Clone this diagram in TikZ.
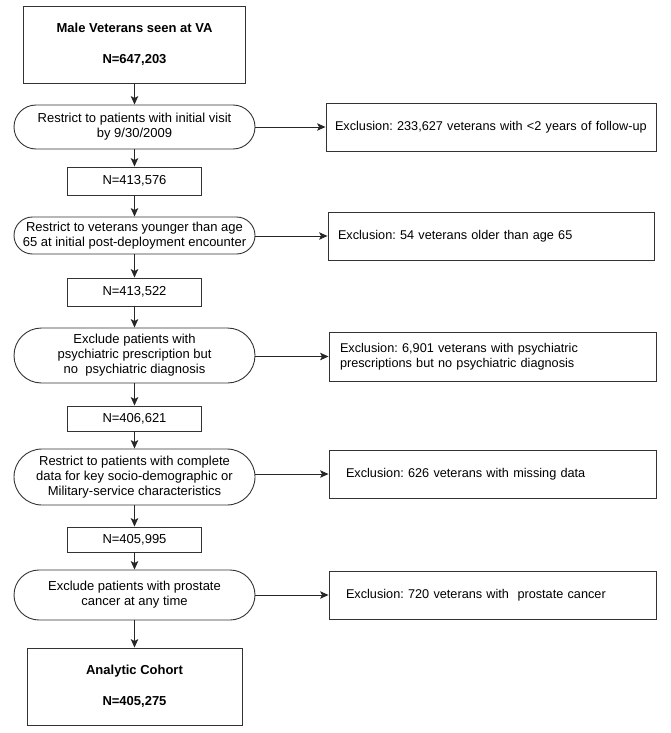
\documentclass[tikz,border=0pt]{standalone}
\usepackage{fontspec}
\setmainfont{Liberation Sans}
\usetikzlibrary{arrows.meta,shapes.misc}
\frenchspacing

\begin{document}
\begin{tikzpicture}[x=1pt,y=-1pt,
	every node/.style={font=\fontsize{13}{15}\selectfont, draw=black!80, line width=0.9pt, inner sep=0pt, align=center},
	box/.style={rectangle},
	pill/.style={rounded rectangle, minimum width=241pt},
	count/.style={rectangle, minimum width=134pt},
	excl/.style={rectangle, align=left, minimum height=48pt, font=\fontsize{12.7}{15}\selectfont},
	arr/.style={-{Stealth[length=8.5pt,width=7.5pt,inset=2pt]}, line width=0.9pt, draw=black!85}]
	\useasboundingbox (0,0) rectangle (671,733);

	\node[box, minimum width=222pt, minimum height=77pt] (male) at (134.5,44.5) {\textbf{Male Veterans seen at VA}\\[16pt]\textbf{N=647,203}};
	\node[pill, minimum height=44pt] (r1) at (134.5,127) {Restrict to patients with initial visit\\by 9/30/2009};
	\node[count, minimum height=28pt] (n1) at (134.5,181) {N=413,576};
	\node[pill, minimum height=37pt] (r2) at (134.5,235.5) {Restrict to veterans younger than age\\65 at initial post-deployment encounter};
	\node[count, minimum height=28pt] (n2) at (134.5,292) {N=413,522};
	\node[pill, minimum height=55pt] (r3) at (134.5,355.5) {Exclude patients with\\psychiatric prescription but\\no\ \ psychiatric diagnosis};
	\node[count, minimum height=25pt] (n3) at (134.5,418.5) {N=406,621};
	\node[pill, minimum height=56pt] (r4) at (134.5,477) {Restrict to patients with complete\\data for key socio-demographic or\\Military-service characteristics};
	\node[count, minimum height=25pt] (n4) at (134.5,539.5) {N=405,995};
	\node[pill, minimum height=50pt] (r5) at (134.5,595) {Exclude patients with prostate\\cancer at any time};
	\node[box, minimum width=215pt, minimum height=77pt] (cohort) at (134.5,686.5) {\textbf{Analytic Cohort}\\[16pt]\textbf{N=405,275}};

	\node[excl, inner xsep=9pt, text width=312pt] (e1) at (491,127) {\mbox{Exclusion: 233,627 veterans with <2 years of follow-up}};
	\node[excl, inner xsep=10pt, text width=306pt] (e2) at (491,236) {Exclusion: 54 veterans older than age 65};
	\node[excl, inner xsep=11pt, text width=305pt, minimum height=49pt] (e3) at (492.5,356.5) {Exclusion: 6,901 veterans with psychiatric\\prescriptions but no psychiatric diagnosis};
	\node[excl, inner xsep=17pt, text width=293pt] (e4) at (492.5,474) {Exclusion: 626 veterans with missing data};
	\node[excl, inner xsep=17pt, text width=293pt] (e5) at (492.5,595) {Exclusion: 720 veterans with\ \ prostate cancer};

	\draw[arr] (male.south) -- (r1.north);
	\draw[arr] (r1.south) -- (n1.north);
	\draw[arr] (n1.south) -- (r2.north);
	\draw[arr] (r2.south) -- (n2.north);
	\draw[arr] (n2.south) -- (r3.north);
	\draw[arr] (r3.south) -- (n3.north);
	\draw[arr] (n3.south) -- (r4.north);
	\draw[arr] (r4.south) -- (n4.north);
	\draw[arr] (n4.south) -- (r5.north);
	\draw[arr] (r5.south) -- (cohort.north);

	\draw[arr] (e1.west -| r1.east) -- (e1.west);
	\draw[arr] (e2.west -| r2.east) -- (e2.west);
	\draw[arr] (e3.west -| r3.east) -- (e3.west);
	\draw[arr] (e4.west -| r4.east) -- (e4.west);
	\draw[arr] (e5.west -| r5.east) -- (e5.west);
\end{tikzpicture}
\end{document}
